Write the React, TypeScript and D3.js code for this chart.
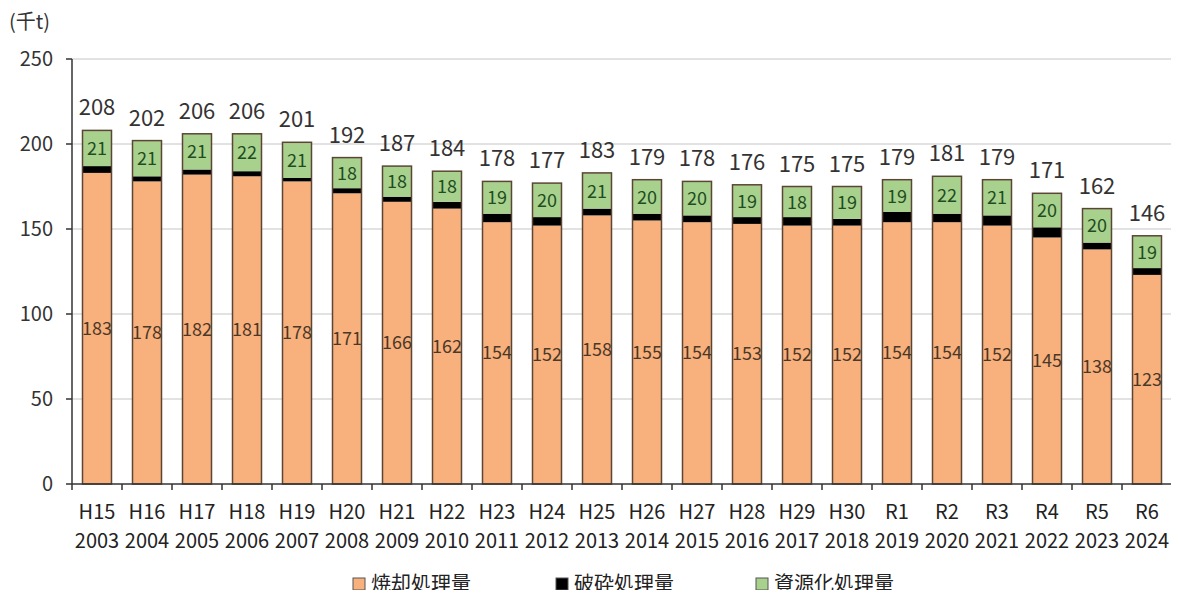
import React from "react";
import * as d3 from "d3";

const eraLabels = ["H15","H16","H17","H18","H19","H20","H21","H22","H23","H24","H25","H26","H27","H28","H29","H30","R1","R2","R3","R4","R5","R6"];
const yearLabels = ["2003","2004","2005","2006","2007","2008","2009","2010","2011","2012","2013","2014","2015","2016","2017","2018","2019","2020","2021","2022","2023","2024"];
const incineration = [183,178,182,181,178,171,166,162,154,152,158,155,154,153,152,152,154,154,152,145,138,123];
const crushing = [4,3,3,3,2,3,3,4,5,5,4,4,4,4,5,4,6,5,6,6,4,4];
const recycling = [21,21,21,22,21,18,18,18,19,20,21,20,20,19,18,19,19,22,21,20,20,19];
const totals = [208,202,206,206,201,192,187,184,178,177,183,179,178,176,175,175,179,181,179,171,162,146];
const yTicks = [0,50,100,150,200,250];
const seriesNames = ["焼却処理量","破砕処理量","資源化処理量"];
const seriesColors = ["#F8B07C","#000000","#A9D18E"];

const W = 1179, H = 598;
const left = 72, right = 1172, top = 59, bottom = 484;
const font = "'Noto Sans CJK JP', 'Noto Sans', sans-serif";

export default function App() {
  const x = d3.scaleBand<string>().domain(eraLabels).range([left, right]).paddingInner(0.42).paddingOuter(0.21);
  const y = d3.scaleLinear().domain([0, 250]).range([bottom, top]);
  const bw = x.bandwidth();
  const series = [incineration, crushing, recycling];
  const stroke = "#5b4636";

  return (
    <div style={{ margin: -8, height: H, overflow: "hidden" }}>
      <svg width={W} height={H} style={{ display: "block", background: "#fff" }} fontFamily={font}>
        <text x={9} y={29} fontSize={20} fill="#333">(千t)</text>
        {yTicks.filter(t => t > 0).map(t => (
          <line key={"g" + t} x1={left} x2={right} y1={y(t)} y2={y(t)} stroke="#d9d9d9" strokeWidth={1.5} />
        ))}
        {yTicks.map(t => (
          <g key={"yt" + t}>
            <line x1={left - 6} x2={left} y1={y(t)} y2={y(t)} stroke="#333" strokeWidth={1.5} />
            <text x={53} y={y(t)} dy="0.35em" textAnchor="end" fontSize={20} fill="#333">{t}</text>
          </g>
        ))}
        {eraLabels.map((c, i) => {
          const x0 = x(c)!;
          let acc = 0;
          const segs = series.map((s, k) => {
            const y0 = acc; acc += s[i];
            return { k, y0, y1: acc };
          });
          return (
            <g key={c}>
              {segs.map(sg => (
                <rect key={sg.k} x={x0} width={bw} y={y(sg.y1)} height={y(sg.y0) - y(sg.y1)} fill={seriesColors[sg.k]} />
              ))}
              <rect x={x0} width={bw} y={y(acc)} height={y(0) - y(acc)} fill="none" stroke={stroke} strokeWidth={1.5} />
              <text x={x0 + bw / 2} y={y(incineration[i] / 2)} dy="0.35em" textAnchor="middle" fontSize={18} fill="#4a3828">{incineration[i]}</text>
              <text x={x0 + bw / 2} y={(y(segs[2].y0) + y(segs[2].y1)) / 2} dy="0.38em" textAnchor="middle" fontSize={18} fill="#1e4d1e">{recycling[i]}</text>
              <text x={x0 + bw / 2} y={y(totals[i]) - 15} textAnchor="middle" fontSize={22} fill="#333">{totals[i]}</text>
            </g>
          );
        })}
        <line x1={left} x2={left} y1={top} y2={bottom} stroke="#333" strokeWidth={1.5} />
        <line x1={left} x2={right} y1={bottom} y2={bottom} stroke="#333" strokeWidth={1.5} />
        {d3.range(eraLabels.length + 1).map(i => {
          const xx = left + (right - left) / eraLabels.length * i;
          return <line key={"xt" + i} x1={xx} x2={xx} y1={bottom} y2={bottom + 6} stroke="#333" strokeWidth={1.5} />;
        })}
        {eraLabels.map((c, i) => (
          <g key={"xl" + c}>
            <text x={x(c)! + bw / 2} y={519} textAnchor="middle" fontSize={20} fill="#222">{c}</text>
            <text x={x(c)! + bw / 2} y={548} textAnchor="middle" fontSize={20} fill="#222">{yearLabels[i]}</text>
          </g>
        ))}
        {seriesNames.map((n, k) => {
          const lx = [353, 556, 756][k];
          return (
            <g key={n}>
              <rect x={lx} y={578} width={12} height={12} fill={seriesColors[k]} stroke="#555" strokeWidth={1} />
              <text x={lx + 18} y={591} fontSize={20} fill="#222">{n}</text>
            </g>
          );
        })}
      </svg>
    </div>
  );
}
